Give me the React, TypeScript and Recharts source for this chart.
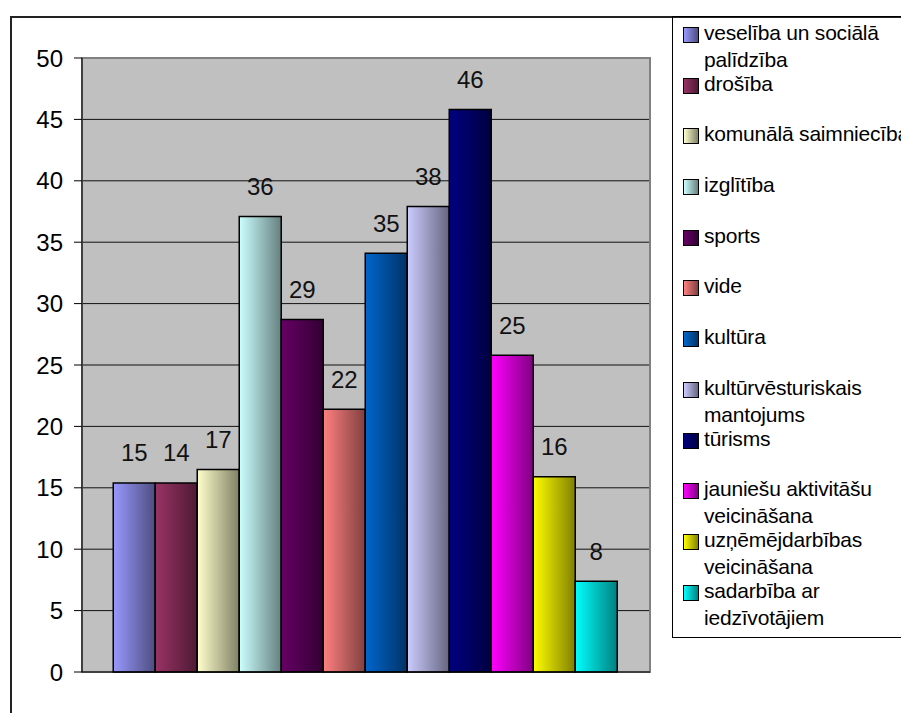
import { BarChart, Bar, XAxis, YAxis, CartesianGrid, Legend, ReferenceArea, LabelList } from 'recharts'

const categories = [
  'veselība un sociālā palīdzība',
  'drošība',
  'komunālā saimniecība',
  'izglītība',
  'sports',
  'vide',
  'kultūra',
  'kultūrvēsturiskais mantojums',
  'tūrisms',
  'jauniešu aktivitāšu veicināšana',
  'uzņēmējdarbības veicināšana',
  'sadarbība ar iedzīvotājiem',
]
// bar heights as drawn
const values = [15.4, 15.4, 16.5, 37.1, 28.7, 21.4, 34.1, 37.9, 45.8, 25.8, 15.9, 7.4]
// numbers printed above the bars
const labels = [15, 14, 17, 36, 29, 22, 35, 38, 46, 25, 16, 8]
const colors = ['#9999FF', '#993366', '#FFFFCC', '#CCFFFF', '#660066', '#FF8080', '#0066CC', '#CCCCFF', '#000080', '#FF00FF', '#FFFF00', '#00FFFF']
const yTicks = [0, 5, 10, 15, 20, 25, 30, 35, 40, 45, 50]

const FONT = '"Liberation Sans", Arial, sans-serif'

const darken = (hex: string) => {
  const n = parseInt(hex.slice(1), 16)
  const r = Math.round(((n >> 16) & 255) * 0.5)
  const g = Math.round(((n >> 8) & 255) * 0.5)
  const b = Math.round((n & 255) * 0.5)
  return `rgb(${r},${g},${b})`
}

const row: Record<string, string | number> = { name: '' }
categories.forEach((_, i) => {
  row['s' + i] = values[i]
})
const data = [row]

function LegendBox() {
  return (
    <div
      style={{
        width: 260,
        height: 622,
        borderLeft: '1px solid #000',
        borderTop: '1px solid #000',
        borderBottom: '1px solid #000',
        boxSizing: 'border-box',
        paddingTop: 2,
        fontFamily: FONT,
        fontSize: 21,
        letterSpacing: -0.2,
        color: '#000',
      }}
    >
      {categories.map((name, i) => (
        <div key={name} style={{ position: 'relative', height: 50.7 }}>
          <div
            style={{
              position: 'absolute',
              left: 10,
              top: 8,
              width: 14,
              height: 14,
              border: '1.5px solid #000',
              background: `linear-gradient(to right, ${colors[i]}, ${darken(colors[i])})`,
            }}
          />
          <div style={{ position: 'absolute', left: 31, top: 0, width: 240, lineHeight: '27px' }}>{name}</div>
        </div>
      ))}
    </div>
  )
}

export default function App() {
  return (
    <div style={{ position: 'relative', width: 901, height: 705, overflow: 'hidden', background: '#fff' }}>
      <div
        style={{
          position: 'absolute',
          left: 2,
          top: 8,
          width: 2000,
          height: 2000,
          borderLeft: '2px solid #222',
          borderTop: '2px solid #222',
        }}
      />
      <div style={{ position: 'absolute', left: 0, top: 0 }}>
        <BarChart
          width={901}
          height={705}
          data={data}
          margin={{ top: 50, right: 259, bottom: 21, left: 0 }}
          barCategoryGap="5.5%"
          barGap={0}
        >
          <defs>
            {colors.map((c, i) => (
              <linearGradient key={i} id={'g' + i} x1="0" y1="0" x2="1" y2="0">
                <stop offset="0%" stopColor={c} />
                <stop offset="100%" stopColor={darken(c)} />
              </linearGradient>
            ))}
          </defs>
          <CartesianGrid vertical={false} stroke="#111" fill="#C0C0C0" fillOpacity={1} />
          <ReferenceArea y1={0} y2={50} fill="none" stroke="#808080" strokeWidth={2} />
          <XAxis dataKey="name" tick={false} tickLine={false} height={20} stroke="#000" />
          <YAxis
            domain={[0, 50]}
            ticks={yTicks}
            width={74}
            tickSize={8}
            tickMargin={11}
            stroke="#000"
            tick={{ fontSize: 24, fill: '#000', fontFamily: FONT }}
          />
          <Legend
            layout="vertical"
            align="center"
            verticalAlign="middle"
            wrapperStyle={{ left: 664, top: 8, width: 260, height: 622 }}
            content={<LegendBox />}
          />
          {categories.map((c, i) => (
            <Bar
              key={c}
              dataKey={'s' + i}
              name={c}
              fill={`url(#g${i})`}
              stroke="#000"
              strokeWidth={1.5}
              isAnimationActive={false}
            >
              <LabelList
                dataKey={'s' + i}
                content={(p: any) => (
                  <text
                    x={Number(p.x) + Number(p.width) / 2}
                    y={Number(p.y) - 30}
                    dy="0.355em"
                    textAnchor="middle"
                    fontSize={24}
                    fontFamily={FONT}
                    fill="#111"
                  >
                    {labels[i]}
                  </text>
                )}
              />
            </Bar>
          ))}
        </BarChart>
      </div>
    </div>
  )
}
